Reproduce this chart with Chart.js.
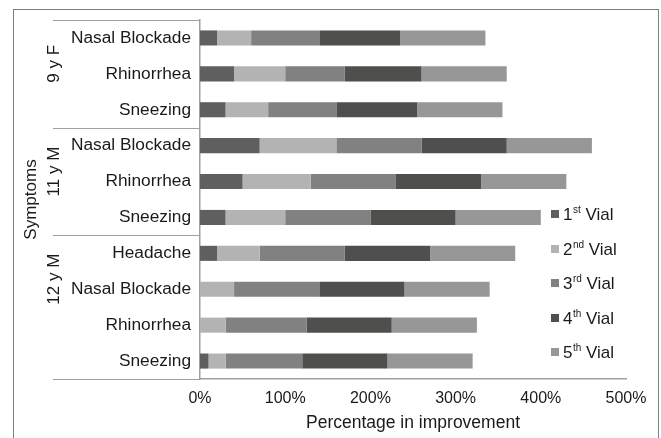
<!DOCTYPE html>
<html><head><meta charset="utf-8">
<script src="https://cdn.jsdelivr.net/npm/chart.js@4.4.0/dist/chart.umd.min.js"></script>
<style>html,body{margin:0;padding:0;background:#fff;}#wrap{position:relative;width:661px;height:438px;}</style>
</head><body><div id="wrap"><canvas id="c" width="661" height="438"></canvas></div>
<script>
const categories = ['Nasal Blockade','Rhinorrhea','Sneezing','Nasal Blockade','Rhinorrhea','Sneezing','Headache','Nasal Blockade','Rhinorrhea','Sneezing'];
const groupLabels = ['9 y F','11 y M','12 y M'];
const groupSizes = [3,3,4];
const vial1 = [20,40,30,70,50,30,20,0,0,10];
const vial2 = [40,60,50,90,80,70,50,40,30,20];
const vial3 = [80,70,80,100,100,100,100,100,95,90];
const vial4 = [95,90,95,100,100,100,100,100,100,100];
const vial5 = [100,100,100,100,100,100,100,100,100,100];
const vialNumbers = ['1','2','3','4','5'];
const vialSuffixes = ['st','nd','rd','th','th'];
const xTickValues = [0,100,200,300,400,500];
const xTitle = 'Percentage in improvement';
const yTitle = 'Symptoms';

const series = [vial1, vial2, vial3, vial4, vial5];
const colors = ['#5f5f5f','#b3b3b3','#808180','#4f4f4d','#979797'];
const FONT = "'Liberation Sans', Arial, sans-serif";
const TEXT = '#1a1a1a';
const LINE = '#a0a0a0';

const datasets = series.map((d, i) => ({
  label: vialNumbers[i] + vialSuffixes[i] + ' Vial',
  data: d,
  backgroundColor: colors[i],
  borderWidth: 0,
  barPercentage: 0.42,
  categoryPercentage: 1.0
}));

const decor = {
  id: 'decor',
  afterDraw(chart) {
    const ctx = chart.ctx;
    const y = chart.scales.y;
    const area = chart.chartArea;
    const band = (area.bottom - area.top) / categories.length;
    ctx.save();
    // outer frame
    ctx.strokeStyle = '#808080';
    ctx.lineWidth = 1;
    ctx.strokeRect(13.5, 9.5, 645, 600);
    // group separators and labels
    ctx.strokeStyle = LINE;
    ctx.lineWidth = 1;
    let start = 0;
    const bounds = [area.top];
    groupSizes.forEach((n) => {
      start += n;
      const last = start - 1;
      bounds.push(start >= categories.length ? area.bottom : y.getPixelForValue(last) + band / 2);
    });
    bounds.forEach(b => {
      const yy = Math.round(b) + 0.5;
      ctx.beginPath(); ctx.moveTo(53, yy); ctx.lineTo(area.left, yy); ctx.stroke();
    });
    ctx.fillStyle = TEXT;
    ctx.font = '17px ' + FONT;
    ctx.textAlign = 'center';
    ctx.textBaseline = 'middle';
    groupLabels.forEach((g, i) => {
      const cy = bounds[i] + band * 1.22;
      ctx.save();
      ctx.translate(54, cy);
      ctx.rotate(-Math.PI / 2);
      ctx.fillText(g, 0, 0);
      ctx.restore();
    });
    // legend
    ctx.textAlign = 'left';
    ctx.textBaseline = 'alphabetic';
    chart.data.datasets.forEach((ds, i) => {
      const cy = 214 + i * 34.6;
      ctx.fillStyle = ds.backgroundColor;
      ctx.fillRect(551, Math.round(cy - 4), 8, 8);
      ctx.fillStyle = TEXT;
      let x = 563;
      ctx.font = '17px ' + FONT;
      ctx.fillText(vialNumbers[i], x, cy + 6);
      x += ctx.measureText(vialNumbers[i]).width + 0.5;
      ctx.font = '10px ' + FONT;
      ctx.fillText(vialSuffixes[i], x, cy - 1);
      x += ctx.measureText(vialSuffixes[i]).width;
      ctx.font = '17px ' + FONT;
      ctx.fillText(' Vial', x, cy + 6);
    });
    ctx.restore();
  }
};

new Chart(document.getElementById('c'), {
  type: 'bar',
  data: { labels: categories, datasets },
  options: {
    indexAxis: 'y',
    responsive: false,
    animation: false,
    devicePixelRatio: 1,
    layout: { padding: { left: 17, top: 20, right: 35, bottom: 0 } },
    plugins: { legend: { display: false }, tooltip: { enabled: false } },
    scales: {
      x: {
        stacked: true,
        min: 0, max: 500,
        afterBuildTicks: s => { s.ticks = xTickValues.map(v => ({ value: v })); },
        afterFit: s => { s.height = 59; },
        grid: { display: false, drawTicks: false },
        border: { display: true, color: LINE, width: 1.5 },
        ticks: { padding: 10, color: TEXT, font: { family: FONT, size: 16 }, callback: v => v + '%', maxRotation: 0 },
        title: { display: true, text: xTitle, color: TEXT, font: { family: FONT, size: 17.5 }, padding: { top: 0, bottom: 4 } }
      },
      y: {
        stacked: true,
        afterFit: s => { s.width = 183; },
        grid: { display: false, drawTicks: false },
        border: { display: true, color: LINE, width: 1.5 },
        ticks: { padding: 9, color: TEXT, autoSkip: false, font: { family: FONT, size: 17.3 }, callback: (v, i) => categories[i] },
        title: { display: true, text: yTitle, color: TEXT, font: { family: FONT, size: 17 }, padding: { top: 4, bottom: 0 } }
      }
    }
  },
  plugins: [decor]
});
</script></body></html>
